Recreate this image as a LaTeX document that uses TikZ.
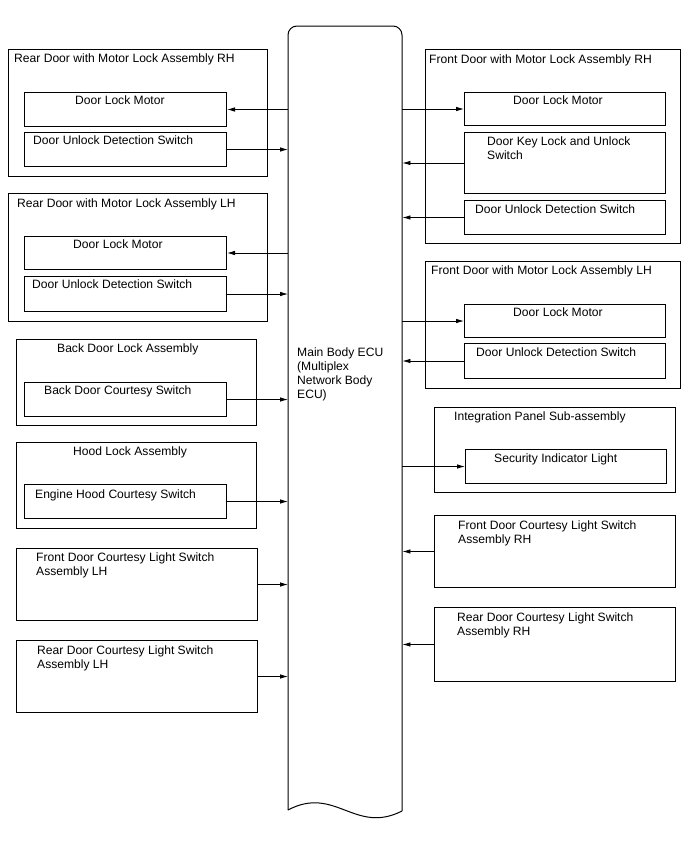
\documentclass[tikz,border=0pt]{standalone}
\usepackage{fontspec}
\setmainfont{Liberation Sans}
\usetikzlibrary{arrows.meta}
\tikzset{
  box/.style={draw, line width=1pt, inner sep=0pt, anchor=north west},
  lbl/.style={anchor=base west, inner sep=0pt, font=\fontsize{12.1}{14}\selectfont, align=left},
  arr/.style={line width=0.8pt, -{Latex[length=8pt,width=4.5pt]}},
}
\newcommand{\bx}[5]{\node[box, minimum width=#4-#2, minimum height=#5-#3] (#1) at (#2,#3) {};}
\begin{document}
\begin{tikzpicture}[x=1pt,y=-1pt]
\useasboundingbox (0,0) rectangle (688,852);
% ECU
\node[inner sep=0pt, minimum width=114, minimum height=784, anchor=north west] (ecu) at (288,26) {};
\draw[line width=1pt, rounded corners=9] (288,810) -- (288,26) -- (402,26) -- (402,811);
\draw[line width=1pt] (402,811) .. controls (355,835) and (335,785) .. (288,810);
\node[lbl] (ecut) at (297,398) {Main Body ECU\\(Multiplex\\Network Body\\ECU)};
% Left side
\bx{rrh}{8}{49}{267}{176}
\bx{rrhm}{24}{92}{226}{126}
\bx{rrhs}{24}{132}{226}{166}
\node[lbl] (rrht) at (14,62) {Rear Door with Motor Lock Assembly RH};
\node[lbl] (rrhmt) at (75,104) {Door Lock Motor};
\node[lbl] (rrhst) at (33,144) {Door Unlock Detection Switch};
\bx{rlh}{8}{193}{267}{321}
\bx{rlhm}{24}{236}{226}{269}
\bx{rlhs}{24}{276}{226}{311}
\node[lbl] (rlht) at (17,207) {Rear Door with Motor Lock Assembly LH};
\node[lbl] (rlhmt) at (73,248) {Door Lock Motor};
\node[lbl] (rlhst) at (32,288) {Door Unlock Detection Switch};
\bx{bd}{16}{339}{256}{425}
\bx{bds}{24}{382}{226}{416}
\node[lbl] (bdt) at (57,352) {Back Door Lock Assembly};
\node[lbl] (bdst) at (44,394) {Back Door Courtesy Switch};
\bx{hd}{16}{442}{256}{528}
\bx{hds}{24}{484}{226}{518}
\node[lbl] (hdt) at (73,455) {Hood Lock Assembly};
\node[lbl] (hdst) at (35,498) {Engine Hood Courtesy Switch};
\bx{fcl}{16}{548}{257}{620}
\node[lbl] (fclt) at (36,575) {Front Door Courtesy Light Switch\\Assembly LH};
\bx{rcl}{16}{640}{257}{712}
\node[lbl] (rclt) at (37,668) {Rear Door Courtesy Light Switch\\Assembly LH};
% Right side
\bx{frh}{425}{49}{680}{243}
\bx{frhm}{464}{92}{665}{125}
\bx{frhk}{464}{132}{665}{193}
\bx{frhs}{464}{200}{665}{234}
\node[lbl] (frht) at (429,63) {Front Door with Motor Lock Assembly RH};
\node[lbl] (frhmt) at (513,104) {Door Lock Motor};
\node[lbl] (frhkt) at (487,159) {Door Key Lock and Unlock\\Switch};
\node[lbl] (frhst) at (475,213) {Door Unlock Detection Switch};
\bx{flh}{425}{261}{680}{388}
\bx{flhm}{464}{304}{665}{337}
\bx{flhs}{464}{343}{665}{378}
\node[lbl] (flht) at (431,274) {Front Door with Motor Lock Assembly LH};
\node[lbl] (flhmt) at (513,316) {Door Lock Motor};
\node[lbl] (flhst) at (476,356) {Door Unlock Detection Switch};
\bx{ip}{434}{407}{675}{492}
\bx{ipl}{465}{449}{666}{483}
\node[lbl] (ipt) at (454,420) {Integration Panel Sub-assembly};
\node[lbl] (iplt) at (494,462) {Security Indicator Light};
\bx{fcr}{434}{515}{675}{587}
\node[lbl] (fcrt) at (458,543) {Front Door Courtesy Light Switch\\Assembly RH};
\bx{rcr}{434}{607}{675}{681}
\node[lbl] (rcrt) at (457,635) {Rear Door Courtesy Light Switch\\Assembly RH};
% Connectors
\draw[arr] (ecu.west |- rrhm.east) -- (rrhm.east);
\draw[arr] (rrhs.east) -- (ecu.west |- rrhs.east);
\draw[arr] (ecu.west |- rlhm.east) -- (rlhm.east);
\draw[arr] (rlhs.east) -- (ecu.west |- rlhs.east);
\draw[arr] (bds.east) -- (ecu.west |- bds.east);
\draw[arr] (hds.east) -- (ecu.west |- hds.east);
\draw[arr] (fcl.east) -- (ecu.west |- fcl.east);
\draw[arr] (rcl.east) -- (ecu.west |- rcl.east);
\draw[arr] (ecu.east |- frhm.west) -- (frhm.west);
\draw[arr] (frhk.west) -- (ecu.east |- frhk.west);
\draw[arr] (frhs.west) -- (ecu.east |- frhs.west);
\draw[arr] (ecu.east |- flhm.west) -- (flhm.west);
\draw[arr] (flhs.west) -- (ecu.east |- flhs.west);
\draw[arr] (ecu.east |- ipl.west) -- (ipl.west);
\draw[arr] (fcr.west) -- (ecu.east |- fcr.west);
\draw[arr] (rcr.west) -- (ecu.east |- rcr.west);
\end{tikzpicture}
\end{document}
